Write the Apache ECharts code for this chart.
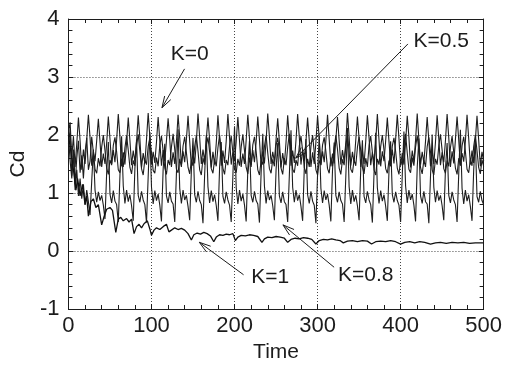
<!DOCTYPE html>
<html>
<head>
<meta charset="utf-8">
<script src="https://cdn.jsdelivr.net/npm/echarts@6/dist/echarts.min.js"></script>
<style>
html,body{margin:0;padding:0;background:#fff;}
#c{width:505px;height:368px;}
</style>
</head>
<body>
<div id="c"></div>
<script>
// ---- data ----
const time = [0,2,4,6,8,10,12,14,16,18,20,22,24,26,28,30,32,34,36,38,40,42,44,46,48,50,52,54,56,58,60,62,64,66,68,70,72,74,76,78,80,82,84,86,88,90,92,94,96,98,100,102,104,106,108,110,112,114,116,118,120,122,124,126,128,130,132,134,136,138,140,142,144,146,148,150,152,154,156,158,160,162,164,166,168,170,172,174,176,178,180,182,184,186,188,190,192,194,196,198,200,202,204,206,208,210,212,214,216,218,220,222,224,226,228,230,232,234,236,238,240,242,244,246,248,250,252,254,256,258,260,262,264,266,268,270,272,274,276,278,280,282,284,286,288,290,292,294,296,298,300,302,304,306,308,310,312,314,316,318,320,322,324,326,328,330,332,334,336,338,340,342,344,346,348,350,352,354,356,358,360,362,364,366,368,370,372,374,376,378,380,382,384,386,388,390,392,394,396,398,400,402,404,406,408,410,412,414,416,418,420,422,424,426,428,430,432,434,436,438,440,442,444,446,448,450,452,454,456,458,460,462,464,466,468,470,472,474,476,478,480,482,484,486,488,490,492,494,496,498,500];

const cdK0 = [
2.05,2.22,1.62,1.98,1.45,1.85,
2.30,1.90,1.40,1.75,1.50,1.92,
2.35,1.95,1.47,1.72,1.55,1.90,
2.28,1.88,1.45,1.68,1.50,1.86,
2.32,1.93,1.50,1.74,1.53,1.91,
2.36,1.96,1.46,1.70,1.49,1.87,
2.30,1.91,1.48,1.73,1.54,1.89,
2.34,1.94,1.44,1.69,1.51,1.92,
2.38,1.97,1.49,1.71,1.52,1.88,
2.31,1.90,1.47,1.74,1.55,1.90,
2.29,1.92,1.45,1.70,1.50,1.87,
2.35,1.95,1.48,1.72,1.53,1.91,
2.33,1.89,1.46,1.69,1.51,1.88,
2.37,1.96,1.50,1.75,1.54,1.92,
2.30,1.91,1.44,1.71,1.49,1.86,
2.34,1.93,1.47,1.73,1.52,1.90,
2.36,1.95,1.49,1.70,1.55,1.89,
2.31,1.90,1.45,1.68,1.50,1.91,
2.35,1.94,1.48,1.74,1.53,1.88,
2.32,1.92,1.46,1.72,1.51,1.90,
2.37,1.97,1.50,1.71,1.54,1.92,
2.29,1.89,1.44,1.69,1.49,1.87,
2.34,1.93,1.47,1.73,1.52,1.91,
2.36,1.96,1.49,1.75,1.55,1.89,
2.30,1.91,1.45,1.70,1.50,1.88,
2.33,1.94,1.48,1.72,1.53,1.90,
2.35,1.92,1.46,1.68,1.51,1.92,
2.31,1.90,1.49,1.74,1.54,1.87,
2.38,1.97,1.47,1.71,1.52,1.91,
2.32,1.93,1.45,1.73,1.50,1.89,
2.34,1.95,1.48,1.70,1.53,1.88,
2.36,1.91,1.46,1.72,1.55,1.90,
2.30,1.89,1.50,1.75,1.51,1.92,
2.35,1.94,1.47,1.69,1.49,1.87,
2.33,1.96,1.44,1.73,1.54,1.91,
2.37,1.92,1.49,1.71,1.52,1.89,
2.31,1.90,1.46,1.74,1.50,1.88,
2.34,1.93,1.48,1.70,1.53,1.90,
2.36,1.95,1.45,1.72,1.51,1.92,
2.32,1.91,1.47,1.69,1.54,1.89,
2.35,1.94,1.49,1.73,1.52,1.90,
2.33,1.92,1.46,1.71,1.55
];

const cdK05 = [
1.85,2.10,1.30,1.75,1.15,1.60,1.90,1.35,1.65,1.25,1.70,1.95,1.40,1.55,
1.97,1.70,1.41,1.34,1.60,1.46,1.79,
2.00,1.73,1.43,1.32,1.57,1.48,1.82,
1.96,1.71,1.40,1.35,1.59,1.45,1.78,
1.99,1.74,1.44,1.33,1.56,1.47,1.81,
2.01,1.72,1.42,1.31,1.58,1.49,1.80,
1.95,1.69,1.39,1.34,1.61,1.46,1.83,
1.98,1.73,1.43,1.32,1.57,1.48,1.79,
2.02,1.75,1.41,1.35,1.59,1.45,1.81,
1.97,1.70,1.44,1.33,1.56,1.47,1.80,
1.99,1.72,1.40,1.31,1.60,1.49,1.82,
1.96,1.71,1.42,1.34,1.58,1.46,1.78,
2.00,1.74,1.43,1.32,1.57,1.48,1.81,
1.98,1.70,1.41,1.35,1.59,1.47,1.79,
2.01,1.73,1.44,1.33,1.61,1.45,1.83,
1.97,1.72,1.40,1.31,1.56,1.49,1.80,
1.99,1.69,1.42,1.34,1.58,1.46,1.82,
1.95,1.74,1.43,1.32,1.60,1.48,1.79,
2.02,1.71,1.41,1.35,1.57,1.47,1.81,
1.98,1.73,1.44,1.33,1.59,1.45,1.80,
2.00,1.70,1.40,1.31,1.56,1.49,1.83,
1.96,1.72,1.42,1.34,1.61,1.46,1.78,
1.99,1.75,1.43,1.32,1.58,1.48,1.81,
2.01,1.71,1.41,1.35,1.57,1.47,1.79,
1.97,1.73,1.44,1.33,1.60,1.45,1.82,
1.98,1.70,1.40,1.31,1.59,1.49,1.80,
2.00,1.74,1.42,1.34,1.56,1.46,1.81,
1.95,1.72,1.43,1.32,1.58,1.48,1.83,
2.02,1.69,1.41,1.35,1.61,1.47,1.79,
1.99,1.73,1.44,1.33,1.57,1.45,1.80,
1.96,1.71,1.40,1.31,1.59,1.49,1.82,
2.01,1.74,1.42,1.34,1.56,1.46,1.78,
1.98,1.70,1.43,1.32,1.60,1.48,1.81,
1.97,1.72,1.41,1.35,1.58,1.47,1.80,
2.00,1.73,1.44,1.33,1.57,1.46
];

const cdK08 = [
2.00,1.55,1.25,1.70,1.05,1.40,0.95,1.25,0.90,1.15,0.80,1.05,0.85,
0.62,1.20,1.75,1.05,0.84,1.02,0.87,0.96,0.79,
0.55,1.35,1.88,0.98,0.83,1.04,0.86,0.80,
0.50,1.30,1.98,1.12,0.82,1.05,0.85,0.97,0.78,
0.52,1.42,1.92,0.96,0.84,1.03,0.88,0.80,
0.49,1.28,2.05,1.10,0.81,1.04,0.87,0.98,0.79,
0.51,1.40,1.85,0.95,0.83,1.02,0.86,0.81,
0.50,1.33,2.10,1.08,0.82,1.05,0.88,0.96,0.77,
0.53,1.38,1.95,0.97,0.84,1.03,0.87,0.80,
0.48,1.31,2.00,1.11,0.83,1.04,0.85,0.97,0.78,
0.52,1.44,1.88,0.94,0.82,1.02,0.88,0.79,
0.50,1.29,2.15,1.09,0.81,1.05,0.86,0.98,0.79,
0.51,1.41,1.90,0.96,0.84,1.03,0.87,0.81,
0.49,1.34,2.02,1.12,0.82,1.04,0.88,0.96,0.78,
0.53,1.39,1.86,0.95,0.83,1.02,0.85,0.80,
0.50,1.30,2.08,1.10,0.84,1.05,0.87,0.97,0.77,
0.52,1.43,1.93,0.97,0.82,1.03,0.86,0.79,
0.48,1.32,1.99,1.08,0.83,1.04,0.88,0.98,0.79,
0.51,1.40,1.87,0.96,0.84,1.02,0.87,0.81,
0.50,1.28,2.12,1.11,0.81,1.05,0.85,0.96,0.78,
0.53,1.42,1.91,0.94,0.83,1.03,0.88,0.80,
0.49,1.35,2.04,1.09,0.82,1.04,0.86,0.97,0.77,
0.52,1.38,1.89,0.97,0.84,1.02,0.87,0.79,
0.50,1.31,2.06,1.12,0.83,1.05,0.88,0.98,0.79,
0.51,1.44,1.94,0.95,0.82,1.03,0.85,0.81,
0.48,1.29,2.01,1.10,0.84,1.04,0.87,0.96,0.78,
0.53,1.41,1.86,0.96,0.83,1.02,0.88,0.80,
0.50,1.33,2.09,1.08,0.81,1.05,0.86,0.97,0.77,
0.52,1.39,1.92,0.94,0.84,1.03,0.87,0.80
];

const timeK1 = [0,3,6,9,11,14,17,20,22,24,27,30,33,36,40,43,46,50,53,57,60,63,66,70,73,76,79,82,85,88,91,95,98,100,103,106,110,114,118,121,124,128,132,136,140,144,148,151,155,159,163,167,171,175,178,182,186,190,194,198,201,204,208,213,218,223,228,233,236,240,245,250,255,260,264,268,273,278,283,288,293,298,302,307,312,317,322,327,331,336,342,348,354,360,365,370,376,382,388,394,400,405,411,417,423,429,436,442,448,455,462,469,476,483,490,496,500];
const cdK1 = [2.0,1.7,1.4,1.05,1.25,0.95,1.15,0.8,0.95,0.6,0.85,0.9,0.75,0.8,0.45,0.6,0.72,0.75,0.7,0.32,0.55,0.58,0.52,0.56,0.5,0.55,0.3,0.42,0.46,0.40,0.47,0.52,0.38,0.27,0.36,0.40,0.37,0.42,0.46,0.33,0.36,0.40,0.37,0.39,0.36,0.30,0.19,0.28,0.31,0.29,0.32,0.30,0.26,0.16,0.24,0.28,0.27,0.29,0.28,0.30,0.18,0.24,0.27,0.26,0.28,0.27,0.25,0.15,0.21,0.24,0.23,0.25,0.24,0.22,0.15,0.20,0.22,0.21,0.23,0.22,0.20,0.12,0.18,0.20,0.19,0.21,0.19,0.18,0.14,0.17,0.18,0.16,0.18,0.17,0.12,0.16,0.17,0.16,0.18,0.16,0.12,0.15,0.16,0.14,0.16,0.15,0.12,0.14,0.15,0.13,0.15,0.14,0.15,0.13,0.14,0.14,0.14];

const xTicks = {min:0, max:500, step:100};
const yTicks = {min:-1, max:4, step:1};
const labels = ['K=0','K=0.5','K=0.8','K=1'];

// ---- chart ----
const ink = '#1c1c1c';
const font = 'Liberation Sans';
const chart = echarts.init(document.getElementById('c'));
const pair = (xs, ys) => xs.map((x, i) => [x, ys[i]]);

function axisBase(t){
  return {
    type:'value', min:t.min, max:t.max, interval:t.step,
    axisLine:{show:true, onZero:false, lineStyle:{color:ink, width:1}},
    axisTick:{show:true, inside:true, length:5, lineStyle:{color:ink, width:1}},
    minorTick:{show:true, splitNumber:5, length:4, lineStyle:{color:ink, width:1}},
    splitLine:{show:false},
    minorSplitLine:{show:false}
  };
}
const gridLine = {show:true, lineStyle:{type:[1,2], color:'#444', width:1}};
const labelStyle = {color:ink, fontSize:22, fontFamily:font};

const seriesList = [cdK0, cdK05, cdK08].map((ys, i) => ({
  type:'line', name:labels[i], data:pair(time, ys), showSymbol:false,
  lineStyle:{color:'#1e1e1e', width:1.1}, xAxisIndex:0, yAxisIndex:0, silent:true
}));
seriesList.push({
  type:'line', name:labels[3], data:pair(timeK1, cdK1), showSymbol:false,
  lineStyle:{color:'#111', width:1.3}, xAxisIndex:0, yAxisIndex:0, silent:true
});

chart.setOption({
  animation:false,
  backgroundColor:'#fff',
  grid:{left:62, right:21, top:19, bottom:54, containLabel:false},
  xAxis:[
    Object.assign(axisBase(xTicks), {position:'bottom', splitLine:gridLine,
      axisLabel:Object.assign({margin:6}, labelStyle),
      name:'Time', nameLocation:'middle', nameGap:33,
      nameTextStyle:{color:ink, fontSize:21, fontFamily:font}}),
    Object.assign(axisBase(xTicks), {position:'top', axisLabel:{show:false}})
  ],
  yAxis:[
    Object.assign(axisBase(yTicks), {position:'left', splitLine:gridLine,
      axisLabel:Object.assign({margin:9}, labelStyle),
      name:'Cd', nameLocation:'middle', nameGap:28, nameRotate:90,
      nameTextStyle:{color:ink, fontSize:21, fontFamily:font}}),
    Object.assign(axisBase(yTicks), {position:'right', axisLabel:{show:false}})
  ],
  series:seriesList
});

// annotations placed in data space
const notes = [
  {text:labels[0], at:[146, 3.40], from:[139.8, 3.14], to:[112.6, 2.47]},
  {text:labels[1], at:[449, 3.61], from:[408.8, 3.57], to:[273.7, 1.60]},
  {text:labels[2], at:[358, -0.41], from:[319.9, -0.28], to:[258.3, 0.45]},
  {text:labels[3], at:[243, -0.45], from:[210.9, -0.41], to:[157.6, 0.15]}
];
const px = p => chart.convertToPixel({xAxisIndex:0, yAxisIndex:0}, p);
const g = [];
notes.forEach(n => {
  const a = px(n.at), f = px(n.from), t = px(n.to);
  g.push({type:'text', x:a[0], y:a[1], silent:true,
    style:{text:n.text, fill:ink, font:'21px "Liberation Sans"', align:'center', verticalAlign:'middle'}});
  g.push({type:'line', silent:true, shape:{x1:f[0], y1:f[1], x2:t[0], y2:t[1]},
    style:{stroke:ink, lineWidth:1}});
  const dx = t[0]-f[0], dy = t[1]-f[1], L = Math.hypot(dx, dy);
  const ux = dx/L, uy = dy/L, len = 12, ang = 0.3;
  const p1 = [t[0] - len*(ux*Math.cos(ang) - uy*Math.sin(ang)), t[1] - len*(uy*Math.cos(ang) + ux*Math.sin(ang))];
  const p2 = [t[0] - len*(ux*Math.cos(-ang) - uy*Math.sin(-ang)), t[1] - len*(uy*Math.cos(-ang) + ux*Math.sin(-ang))];
  g.push({type:'polyline', silent:true, shape:{points:[p1, t, p2]}, style:{stroke:ink, lineWidth:1, fill:null}});
});
chart.setOption({graphic:g});
</script>
</body>
</html>
